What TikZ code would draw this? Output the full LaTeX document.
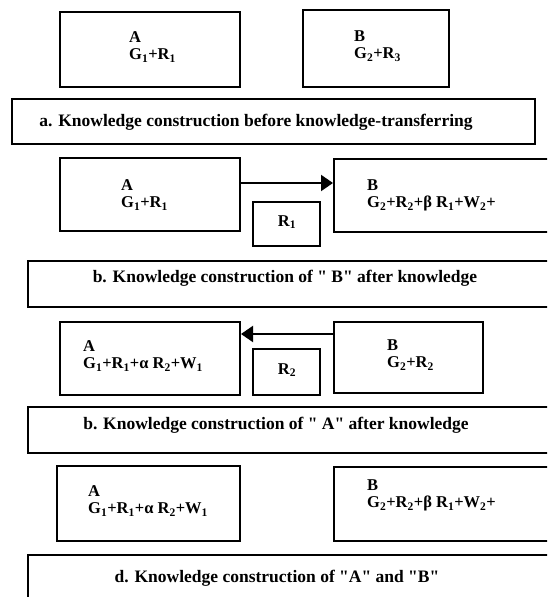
\documentclass[tikz,border=0pt]{standalone}
\usepackage{fontspec}
\setmainfont{Liberation Serif}[Ligatures=TeXOff]
\usetikzlibrary{arrows.meta,calc}
\newcommand{\sbs}[1]{\textsubscript{#1}}
\begin{document}
\begin{tikzpicture}[x=1pt,y=-1pt,
  box/.style={draw,line width=2pt,rectangle,inner sep=0pt},
  lbl/.style={inner sep=0pt,align=left,anchor=north west,font=\bfseries\fontsize{16.5}{17.5}\selectfont},
  rtxt/.style={inner sep=0pt,anchor=center,font=\bfseries\fontsize{16.5}{16}\selectfont},
  captxt/.style={inner sep=0pt,anchor=center,font=\bfseries\fontsize{17.5}{18}\selectfont},
  conn/.style={line width=2pt,-{Triangle[length=12pt,width=16pt]}}]
\useasboundingbox (0,0) rectangle (547,597);
\clip (0,0) rectangle (547,597);
% row a
\node[box,minimum width=180pt,minimum height=75pt] (A1) at (150,49.5) {};
\node[box,minimum width=146pt,minimum height=77pt] (B1) at (376,48.5) {};
\node[lbl] (tA1) at (129,31) {A\\G\sbs{1}+R\sbs{1}};
\node[lbl] (tB1) at (354,30) {B\\G\sbs{2}+R\sbs{3}};
\node[box,minimum width=523pt,minimum height=45pt] (capA) at (273.5,121.5) {};
\node[captxt] (capAt) at (256,122) {a. Knowledge construction before knowledge-transferring};
% row b
\node[box,minimum width=180pt,minimum height=73pt] (A2) at (150,194.5) {};
\node[box,minimum width=240pt,minimum height=73pt] (B2) at (454,195.5) {};
\node[box,minimum width=67pt,minimum height=44pt] (R1) at (286.5,224) {};
\node[rtxt] (tR1) at (287,222) {R\sbs{1}};
\node[lbl] (tA2) at (121,179) {A\\G\sbs{1}+R\sbs{1}};
\node[lbl] (tB2) at (367,179) {B\\G\sbs{2}+R\sbs{2}+β R\sbs{1}+W\sbs{2}+};
\coordinate (s2) at ([yshift=-26pt]A2.north east);
\draw[conn] (s2) -- (s2 -| B2.west);
\node[box,minimum width=560pt,minimum height=46pt] (capB) at (308,284) {};
\node[captxt] (capBt) at (285,278) {b. Knowledge construction of " B" after knowledge};
% row c
\node[box,minimum width=180pt,minimum height=73pt] (A3) at (150,358.5) {};
\node[box,minimum width=149pt,minimum height=71pt] (B3) at (408.5,357.5) {};
\node[box,minimum width=67pt,minimum height=46pt] (R2) at (286.5,372) {};
\node[rtxt] (tR2) at (287,370) {R\sbs{2}};
\node[lbl] (tA3) at (83,340) {A\\G\sbs{1}+R\sbs{1}+α R\sbs{2}+W\sbs{1}};
\node[lbl] (tB3) at (387,339) {B\\G\sbs{2}+R\sbs{2}};
\coordinate (s3) at ([yshift=-13pt]B3.north west);
\draw[conn] (s3) -- (s3 -| A3.east);
\node[box,minimum width=560pt,minimum height=46pt] (capC) at (308,430) {};
\node[captxt] (capCt) at (276,425) {b. Knowledge construction of " A" after knowledge};
% row d
\node[box,minimum width=183pt,minimum height=75pt] (A4) at (148.5,503.5) {};
\node[box,minimum width=240pt,minimum height=74pt] (B4) at (454,504) {};
\node[lbl] (tA4) at (88,485) {A\\G\sbs{1}+R\sbs{1}+α R\sbs{2}+W\sbs{1}};
\node[lbl] (tB4) at (367,479) {B\\G\sbs{2}+R\sbs{2}+β R\sbs{1}+W\sbs{2}+};
\node[box,minimum width=560pt,minimum height=80pt] (capD) at (308,595) {};
\node[captxt] (capDt) at (277,578) {d. Knowledge construction of "A" and "B"};
\end{tikzpicture}
\end{document}
